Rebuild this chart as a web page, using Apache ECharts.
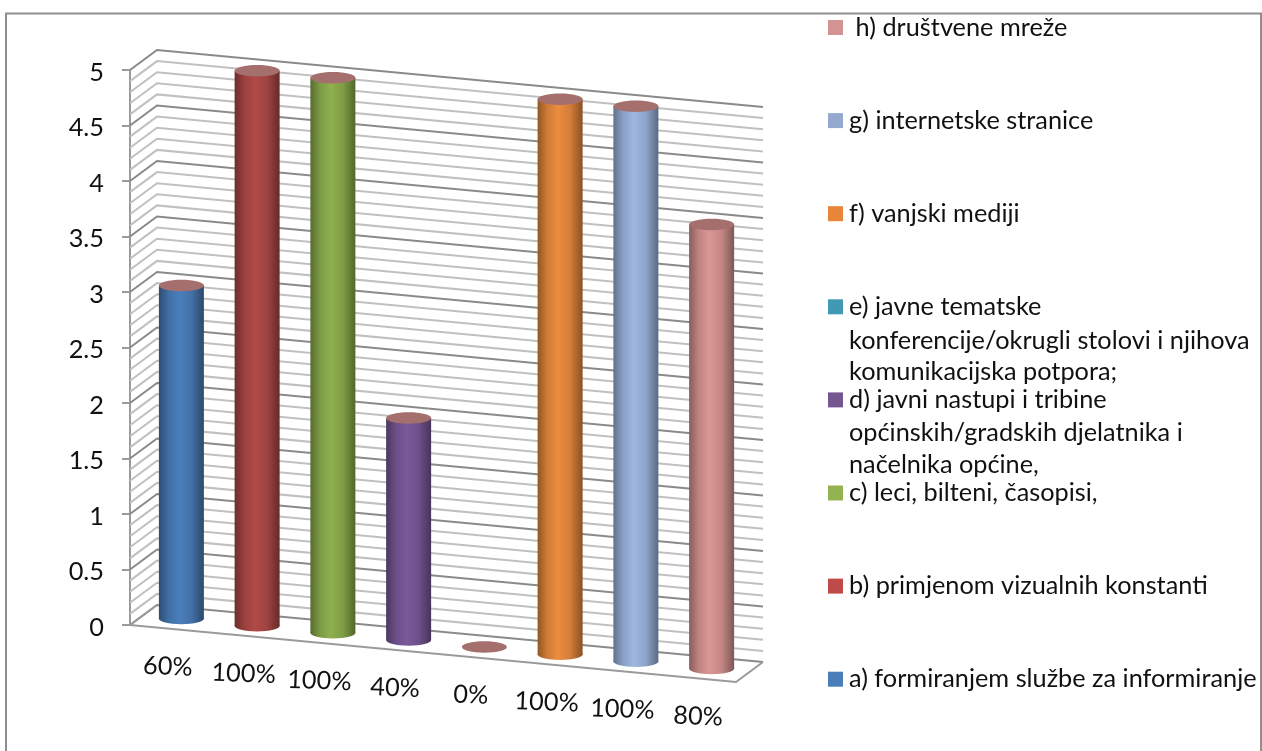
<!DOCTYPE html>
<html>
<head>
<meta charset="utf-8">
<style>html,body{margin:0;padding:0;background:#fff}#c{width:1262px;height:751px}</style>
<script src="https://cdn.jsdelivr.net/npm/echarts@6/dist/echarts.min.js"></script>
</head>
<body>
<div id="c"></div>
<script>
const percentLabels = ['60%','100%','100%','40%','0%','100%','100%','80%'];
const values = [3,5,5,2,0,5,5,4];
const legendFirstLines = [
  'a) formiranjem službe za informiranje',
  'b) primjenom vizualnih konstanti',
  'c) leci, bilteni, časopisi,',
  'd) javni nastupi i tribine',
  'e) javne tematske',
  'f) vanjski mediji',
  'g) internetske stranice',
  ' h) društvene mreže'
];
const legendContinuations = [
  {text:'konferencije/okrugli stolovi i njihova', y:341},
  {text:'komunikacijska potpora;', y:372},
  {text:'općinskih/gradskih djelatnika i', y:433},
  {text:'načelnika općine,', y:465}
];
const mid = ['#4a7ebb','#b04a47','#8eb04e','#7a5a9a','#3f9ab3','#ec8c3e','#9db7e0','#da9694'];
const legendColors = ['#4a7ebb','#be4b48','#94b24f','#75578f','#4299b4','#e9853a','#95a9d0','#d39393'];
const yTicks = [0,0.5,1,1.5,2,2.5,3,3.5,4,4.5,5];
const minorStep = 0.1;
const gridValues = [];
for (let i = 0; i <= 50; i++) gridValues.push(+(i * minorStep).toFixed(1));

const FONT = 'Lato, "Noto Sans", sans-serif';
const FS = 25.3;
const G = {left:130, top:70, w:606, h:555};
const D = {dx:27, dy:-20};
const SK = 57/606;
const RX = 22.5, RY = 5.7;
const TOP = '#a56f6e';
function shade(hex,f){
  const n=parseInt(hex.slice(1),16);
  const c=[n>>16,(n>>8)&255,n&255].map(v=>Math.round(v*f));
  return 'rgb('+c.join(',')+')';
}
function skew(x,y){ return [x, y + (x-G.left)*SK]; }

const wallSeries = {
  type:'custom', name:'wall', coordinateSystem:'cartesian2d', silent:true, z:1,
  encode:{y:1},
  data: gridValues.map(v=>[0,v]),
  renderItem(params, api){
    const v = api.value(1);
    const p0 = api.coord([0,v]);
    const y = p0[1];
    const major = Math.abs(v*2-Math.round(v*2))<1e-6;
    const stroke = major ? '#8a8a8a' : '#c0c0c0';
    const a=[G.left,y], b=[G.left+D.dx,y+D.dy], c=skew(G.left+G.w,y); c[0]+=D.dx; c[1]+=D.dy;
    return {type:'polyline', shape:{points:[a,b,c]}, style:{fill:null, stroke, lineWidth:2}};
  }
};
const floorSeries = {
  type:'custom', name:'floor', coordinateSystem:'cartesian2d', silent:true, z:2,
  encode:{y:1},
  data:[[0,0]],
  renderItem(params, api){
    const o = api.coord([0,0]);
    const fr = skew(G.left+G.w,o[1]);
    const br = [fr[0]+D.dx, fr[1]+D.dy];
    return {type:'polyline', shape:{points:[[G.left+D.dx,o[1]+D.dy],[G.left,o[1]],fr,br]}, style:{fill:null, stroke:'#9a9a9a', lineWidth:2}};
  }
};
const labelSeries = {
  type:'custom', name:'labels', coordinateSystem:'cartesian2d', silent:true, z:3,
  encode:{x:0,y:1},
  data: percentLabels.map((t,i)=>[i,0,t]),
  renderItem(params, api){
    const i = api.value(0);
    const p = skew(...api.coord([i,0]));
    return {type:'text', x:p[0], y:p[1]+38, rotation:-0.04,
      style:{text:percentLabels[i], align:'center', verticalAlign:'middle', font:FS+'px '+FONT, fill:'#111'}};
  }
};
const barSeries = values.map((v,i)=>({
  type:'custom', name:legendFirstLines[i], coordinateSystem:'cartesian2d', silent:true, z:4,
  encode:{x:0,y:1},
  itemStyle:{color:legendColors[i]},
  data:[[i,v]],
  renderItem(params, api){
    const val = api.value(1);
    const base = skew(...api.coord([i,0]));
    const top = skew(...api.coord([i,val]));
    const cx = base[0]+D.dx/2, by = base[1]+D.dy/2, ty = top[1]+D.dy/2;
    const m = mid[i];
    const fill = {type:'linear',x:0,y:0,x2:1,y2:0,colorStops:[
      {offset:0,color:shade(m,0.62)},{offset:0.22,color:shade(m,0.88)},
      {offset:0.45,color:m},{offset:0.72,color:shade(m,0.9)},{offset:1,color:shade(m,0.58)}]};
    const children = [];
    if (val>0){
      children.push({type:'ellipse',shape:{cx,cy:by,rx:RX,ry:RY},style:{fill}});
      children.push({type:'rect',shape:{x:cx-RX,y:ty,width:RX*2,height:by-ty},style:{fill}});
    }
    children.push({type:'ellipse',shape:{cx,cy:ty,rx:RX,ry:RY},style:{fill:TOP}});
    return {type:'group',children};
  }
}));

const chart = echarts.init(document.getElementById('c'),null,{renderer:'canvas'});
chart.setOption({
  animation:false,
  backgroundColor:'#ffffff',
  grid:{left:G.left, top:G.top, width:G.w, height:G.h, containLabel:false},
  xAxis:{type:'category', data:percentLabels, show:false},
  yAxis:{type:'value', min:0, max:5, interval:0.5,
    axisLine:{show:true, lineStyle:{color:'#9a9a9a', width:2}},
    axisTick:{show:true, length:8, lineStyle:{color:'#9a9a9a', width:2}},
    axisLabel:{margin:26, fontFamily:FONT, fontSize:FS, color:'#111', align:'right', verticalAlign:'top', lineHeight:5,
      formatter:v=>String(v), customValues:yTicks},
    splitLine:{show:false}},
  legend:{orient:'vertical', left:828, top:15, padding:0, itemGap:68.1, itemWidth:15, itemHeight:15,
    icon:'rect', selectedMode:false, data:legendFirstLines.slice().reverse(),
    textStyle:{fontFamily:FONT, fontSize:FS, color:'#111', lineHeight:15, padding:[0,0,0,1]}},
  graphic:[
    {type:'polyline', silent:true, shape:{points:[[6,751],[6,13.5],[1261,13.5],[1261,751]]},
     style:{fill:null, stroke:'#8e8e8e', lineWidth:2}}
  ].concat(legendContinuations.map(l=>({type:'text', silent:true, x:849, y:l.y,
     style:{text:l.text, font:FS+'px '+FONT, fill:'#111', verticalAlign:'middle'}}))),
  series:[wallSeries,floorSeries,labelSeries].concat(barSeries)
});
</script>
</body>
</html>
